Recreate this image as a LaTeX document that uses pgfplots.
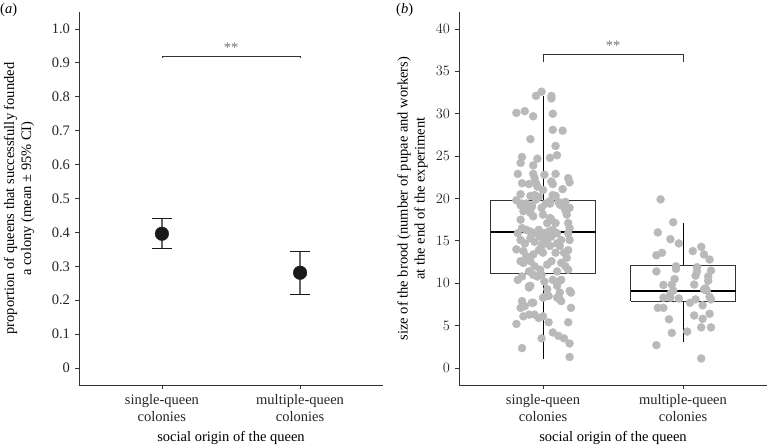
\documentclass[border=0pt]{standalone}
\usepackage{fontspec}
\setmainfont{Liberation Serif}
\usepackage{pgfplots}
\pgfplotsset{compat=1.18}
\definecolor{ptgrey}{RGB}{185,185,185}
\definecolor{axgrey}{RGB}{51,51,51}
\pgfplotstableread{
x y
0.99 32.6
0.95 32.1
1.06 32.1
1.06 31.8
0.81 30.1
0.87 30.3
0.93 29.7
1.07 30.0
1.07 28.1
1.14 28.0
0.91 27.0
1.09 26.2
1.10 25.1
0.85 24.9
0.96 24.7
1.05 24.8
0.84 24.2
0.93 23.9
0.82 22.9
0.93 22.9
1.01 22.8
1.09 22.9
0.94 22.4
1.18 22.4
1.19 21.9
0.85 21.8
0.90 21.7
0.95 21.8
1.06 22.0
1.07 21.7
0.96 21.4
1.14 21.1
1.00 21.0
0.84 20.5
0.91 20.3
0.94 20.4
0.97 20.2
0.95 19.9
1.07 20.4
1.09 20.3
1.05 19.7
0.81 19.8
1.16 19.6
1.12 19.3
0.85 19.4
1.19 18.9
0.88 19.0
0.92 19.2
1.02 19.4
0.99 18.9
0.84 19.2
0.88 19.4
0.92 19.0
0.86 18.5
0.91 18.3
0.93 17.9
1.00 18.1
1.05 17.7
1.03 17.1
1.06 17.5
1.09 17.1
1.07 16.3
1.04 16.1
1.01 15.9
0.84 17.5
0.85 16.5
0.88 16.3
0.93 15.9
0.97 16.3
1.13 19.2
1.16 18.6
1.17 18.1
1.18 17.1
1.19 16.5
1.05 19.4
1.11 19.6
1.18 15.9
0.82 15.9
0.84 15.1
0.87 14.7
0.91 15.3
0.94 14.9
0.98 15.5
1.00 14.7
1.06 15.5
1.10 15.9
1.13 15.1
1.12 14.4
1.09 13.6
1.05 14.4
0.86 13.8
0.88 13.2
0.93 13.4
0.97 13.9
1.00 13.6
0.84 12.6
0.86 12.4
0.91 12.6
0.94 12.0
0.98 11.6
1.03 12.2
1.15 13.6
1.18 13.9
1.17 13.0
1.16 12.0
1.18 11.6
1.19 15.1
1.13 12.4
0.81 14.0
0.90 11.4
1.06 12.6
1.10 11.4
0.96 15.9
0.91 16.1
1.03 15.1
0.99 14.4
1.10 14.7
0.82 10.4
0.85 10.8
0.90 9.5
0.91 9.7
0.93 11.0
0.96 10.8
0.99 11.0
1.01 10.2
1.03 9.3
1.07 10.4
1.11 10.2
1.13 10.4
1.10 9.7
1.12 8.9
1.12 8.1
1.19 9.1
1.20 7.1
0.85 7.9
0.87 7.3
0.93 7.7
0.86 6.1
0.90 6.3
0.94 6.3
0.97 5.9
1.00 6.1
1.04 5.4
0.81 5.2
1.01 8.4
0.99 3.5
1.18 5.4
1.07 4.2
1.11 3.8
1.15 3.5
1.19 2.9
0.85 2.35
1.19 1.3
1.00 8.3
1.04 8.5
1.10 8.3
1.13 7.9
1.20 8.9
0.90 9.65
0.84 7.1
0.86 7.3
0.92 7.7
}\singletab
\pgfplotstableread{
x y
1.84 19.9
1.93 17.2
1.82 16.0
1.91 15.2
1.97 14.7
2.13 14.3
2.07 13.8
2.15 13.4
1.85 13.6
1.81 13.3
2.19 12.8
1.95 12.0
1.95 11.7
1.81 11.4
2.10 11.9
2.10 11.4
2.20 11.5
2.09 10.9
2.18 10.8
2.18 10.3
1.94 10.5
1.86 9.8
1.92 9.85
2.08 9.85
2.16 9.4
1.93 9.15
1.91 8.76
2.15 9.27
2.17 9.15
1.86 8.3
1.91 8.3
1.97 8.2
2.05 7.7
2.09 8.1
2.19 8.4
2.20 8.1
2.14 7.4
1.82 7.1
1.86 7.1
2.08 6.2
2.19 6.4
2.14 5.8
1.90 5.75
2.13 4.8
2.20 4.8
1.92 4.15
2.03 4.3
1.81 2.7
2.13 1.13
}\multitab
\pgfplotstableread{
x y ep em
1 0.396 0.045 0.043
2 0.281 0.063 0.065
}\meantab
\begin{document}
\fontsize{14.5}{17}\selectfont
\begin{tikzpicture}
\useasboundingbox (-79pt,-61pt) rectangle (689pt,385pt);
\pgfplotsset{
 common/.style={
  scale only axis, clip=false,
  height=373pt,
  axis x line=bottom, axis y line=left,
  axis line style={-, axgrey, line width=0.8pt},
  tick align=outside, major tick length=4pt,
  tick style={axgrey, line width=0.8pt},
  xmin=0.4, xmax=2.6, xtick={1,2},
  xticklabels={single-queen\\colonies, multiple-queen\\colonies},
  xticklabel style={align=center, font=\fontsize{14.5}{17}\selectfont, text=black!85},
  yticklabel style={font=\fontsize{14.5}{17}\selectfont, text=black!85},
  xlabel={social origin of the queen},
  xlabel style={at={(axis description cs:0.5,0)}, anchor=center, yshift=-53pt, font=\fontsize{14.5}{17}\selectfont},
  ylabel style={anchor=center, align=center, font=\fontsize{14.5}{17}\selectfont},
 }
}
\begin{axis}[common, at={(0pt,0pt)}, anchor=south west, width=304pt,
  ymin=-0.05, ymax=1.05,
  ytick={0,0.1,0.2,0.3,0.4,0.5,0.6,0.7,0.8,0.9,1.0},
  yticklabels={0,0.1,0.2,0.3,0.4,0.5,0.6,0.7,0.8,0.9,1.0},
  ylabel={proportion of queens that successfully founded\\a colony (mean \textpm\ 95\% CI)},
  ylabel style={at={(axis description cs:-0.197,0.5)}},
]
\addplot[axgrey, line width=0.8pt] coordinates {(1,0.913) (1,0.92) (2,0.92) (2,0.913)};
\node[text=black!55] at (axis cs:1.5,0.945) {**};
\addplot[only marks, mark=*, mark size=6.8pt, color=black!90,
  error bars/.cd, y dir=both, y explicit,
  error bar style={color=black!60, line width=1.3pt},
  error mark options={rotate=90, color=black!90, mark size=10pt, line width=1.3pt}]
  table[x=x, y=y, y error plus=ep, y error minus=em] {\meantab};
\end{axis}
\begin{axis}[common, at={(380pt,0pt)}, anchor=south west, width=308pt,
  ymin=-2, ymax=42,
  ytick={0,5,10,15,20,25,30,35,40},
  ylabel={size of the brood (number of pupae and workers)\\at the end of the experiment},
  ylabel style={at={(axis description cs:-0.151,0.5)}},
]
\addplot[axgrey, line width=0.8pt] coordinates {(1,36.05) (1,37.05) (2,37.05) (2,36.05)};
\node[text=black!55] at (axis cs:1.5,38.0) {**};
% single-queen box
\addplot[black, line width=0.9pt] coordinates {(1,19.8) (1,32.1)};
\addplot[black, line width=0.9pt] coordinates {(1,11.1) (1,1.1)};
\addplot[draw=axgrey, fill=white, line width=0.9pt] coordinates {(0.625,11.1) (1.375,11.1) (1.375,19.8) (0.625,19.8) (0.625,11.1)};
\addplot[black, line width=2pt] coordinates {(0.625,16.05) (1.375,16.05)};
% multiple-queen box
\addplot[black, line width=0.9pt] coordinates {(2,12.05) (2,17.1)};
\addplot[black, line width=0.9pt] coordinates {(2,7.85) (2,3.1)};
\addplot[draw=axgrey, fill=white, line width=0.9pt] coordinates {(1.625,7.85) (2.375,7.85) (2.375,12.05) (1.625,12.05) (1.625,7.85)};
\addplot[black, line width=2pt] coordinates {(1.625,9.1) (2.375,9.1)};
\addplot[only marks, mark=*, mark size=4pt, mark options={fill=ptgrey, draw=ptgrey}] table[x=x,y=y] {\singletab};
\addplot[only marks, mark=*, mark size=4pt, mark options={fill=ptgrey, draw=ptgrey}] table[x=x,y=y] {\multitab};
\end{axis}
\node[anchor=west, inner sep=0pt] at (-79pt,375pt) {(\textit{a})};
\node[anchor=west, inner sep=0pt] at (317pt,375pt) {(\textit{b})};
\end{tikzpicture}
\end{document}
